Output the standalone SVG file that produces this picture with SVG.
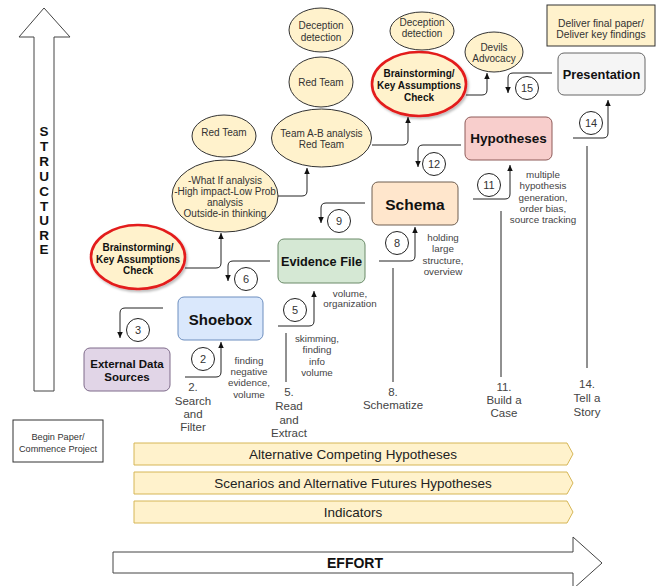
<svg xmlns="http://www.w3.org/2000/svg" width="665" height="586" viewBox="0 0 665 586">
<defs>
<marker id="ah" viewBox="0 0 8 8" refX="7" refY="4" markerWidth="7" markerHeight="7" markerUnits="userSpaceOnUse" orient="auto">
<path d="M0,0.8 L7,4 L0,7.2 Z" fill="#111"/>
</marker>
<filter id="sh" x="-20%" y="-20%" width="150%" height="150%">
<feDropShadow dx="1.5" dy="2" stdDeviation="1.2" flood-color="#000" flood-opacity="0.25"/>
</filter>
<style>
text{font-family:"Liberation Sans",Arial,Helvetica,sans-serif;text-anchor:middle;fill:#222}
.el{fill:#fff2cc;stroke:#333;stroke-width:1}
.red{fill:#fff2cc;stroke:#e31b1b;stroke-width:2.6}
.et{font-size:10px;fill:#333}
.bt{font-size:10px;font-weight:bold;fill:#111}
.nt{font-weight:bold;fill:#111}
.lbl{font-size:9.8px;fill:#444}
.step{font-size:11.5px;fill:#444}
.con{fill:none;stroke:#222;stroke-width:1}
.con path{marker-end:url(#ah)}
.vl{stroke:#222;stroke-width:1}
.num circle{fill:#fff;stroke:#222;stroke-width:1}
.num text{font-size:11px;fill:#333}
.band{fill:#fff2cc;stroke:#d6b656;stroke-width:1}
.bandt{font-size:13.5px;fill:#222}
.big{fill:#fff;stroke:#444;stroke-width:1}
</style>
</defs>
<rect width="665" height="586" fill="#fff"/>

<g id="structure-arrow">
<polygon class="big" points="34,391 54,391 54,37 70,37 44,8 19,37 34,37"/>
<text x="44" y="136" style="font-size:13.5px;font-weight:bold;fill:#111">S</text>
<text x="44" y="151" style="font-size:13.5px;font-weight:bold;fill:#111">T</text>
<text x="44" y="166" style="font-size:13.5px;font-weight:bold;fill:#111">R</text>
<text x="44" y="181" style="font-size:13.5px;font-weight:bold;fill:#111">U</text>
<text x="44" y="196" style="font-size:13.5px;font-weight:bold;fill:#111">C</text>
<text x="44" y="211" style="font-size:13.5px;font-weight:bold;fill:#111">T</text>
<text x="44" y="225" style="font-size:13.5px;font-weight:bold;fill:#111">U</text>
<text x="44" y="240" style="font-size:13.5px;font-weight:bold;fill:#111">R</text>
<text x="44" y="254" style="font-size:13.5px;font-weight:bold;fill:#111">E</text>
</g>

<g id="effort-arrow">
<polygon class="big" points="113,552 573,552 573,537 602,563 573,589 573,573 113,573"/>
<text x="355" y="568" style="font-size:14px;font-weight:bold;fill:#111">EFFORT</text>
</g>

<g id="band-ach">
<polygon class="band" points="134,443 567,443 573,454 567,465 134,465"/>
<text class="bandt" x="353" y="458.5">Alternative Competing Hypotheses</text>
</g>
<g id="band-scenarios">
<polygon class="band" points="134,472 567,472 573,483 567,494 134,494"/>
<text class="bandt" x="353" y="487.5">Scenarios and Alternative Futures Hypotheses</text>
</g>
<g id="band-indicators">
<polygon class="band" points="134,501 567,501 573,512 567,523 134,523"/>
<text class="bandt" x="353" y="516.5">Indicators</text>
</g>

<g id="begin">
<rect x="13" y="420" width="90" height="42" fill="#fff" stroke="#333"/>
<text x="58" y="440" style="font-size:9.2px;fill:#333">Begin Paper/</text>
<text x="58" y="452" style="font-size:9.2px;fill:#333">Commence Project</text>
</g>

<g id="deliver">
<rect x="547" y="5" width="108" height="41" fill="#fff2cc" stroke="#333"/>
<text x="601" y="26.5" style="font-size:10.3px;fill:#333">Deliver final paper/</text>
<text x="601" y="37.5" style="font-size:10.3px;fill:#333">Deliver key findings</text>
</g>

<g id="deception1">
<ellipse class="el" cx="321" cy="30" rx="32" ry="22"/>
<text class="et" x="321" y="28.5">Deception</text>
<text class="et" x="321" y="40.5">detection</text>
</g>
<g id="redteam1">
<ellipse class="el" cx="321" cy="82" rx="32" ry="25"/>
<text class="et" x="321" y="85.5">Red Team</text>
</g>
<g id="teamab">
<ellipse class="el" cx="321.5" cy="138" rx="50" ry="29"/>
<text class="et" x="321.5" y="136.5">Team A-B analysis</text>
<text class="et" x="321.5" y="147.5">Red Team</text>
</g>
<g id="redteam2">
<ellipse class="el" cx="224" cy="136" rx="32" ry="21"/>
<text class="et" x="224" y="135.5">Red Team</text>
</g>
<g id="whatif">
<ellipse class="el" cx="225" cy="196" rx="53" ry="36"/>
<text class="et" x="225" y="183.5">-What If analysis</text>
<text class="et" x="225" y="194.8">-High impact-Low Prob</text>
<text class="et" x="225" y="206">analysis</text>
<text class="et" x="225" y="217.3">Outside-in thinking</text>
</g>
<g id="brainstorm1">
<ellipse class="red" cx="138" cy="257" rx="47" ry="32" filter="url(#sh)"/>
<text class="bt" x="138" y="250.5">Brainstorming/</text>
<text class="bt" x="138" y="262.5">Key Assumptions</text>
<text class="bt" x="138" y="274">Check</text>
</g>
<g id="deception2">
<ellipse class="el" cx="422" cy="31" rx="32" ry="19"/>
<text class="et" x="422" y="25.5">Deception</text>
<text class="et" x="422" y="36.5">detection</text>
</g>
<g id="brainstorm2">
<ellipse class="red" cx="419" cy="84" rx="47" ry="32" filter="url(#sh)"/>
<text class="bt" x="419" y="76.5">Brainstorming/</text>
<text class="bt" x="419" y="88.5">Key Assumptions</text>
<text class="bt" x="419" y="100.5">Check</text>
</g>
<g id="devils">
<ellipse class="el" cx="494" cy="52" rx="29" ry="20"/>
<text class="et" x="494" y="50.5">Devils</text>
<text class="et" x="494" y="61.5">Advocacy</text>
</g>

<g id="presentation">
<rect x="558" y="53" width="87" height="42" rx="6" fill="#f5f5f5" stroke="#666"/>
<text class="nt" x="601.5" y="78.5" style="font-size:12.8px">Presentation</text>
</g>
<g id="hypotheses">
<rect x="465" y="117" width="87" height="43" rx="6" fill="#f8cecc" stroke="#8e5a58"/>
<text class="nt" x="508.5" y="143" style="font-size:13.5px">Hypotheses</text>
</g>
<g id="schema">
<rect x="372" y="182" width="86" height="43" rx="6" fill="#ffe6cc" stroke="#6e5e50"/>
<text class="nt" x="415" y="209.5" style="font-size:15.5px">Schema</text>
</g>
<g id="evidence">
<rect x="278" y="239" width="87" height="44" rx="6" fill="#d5e8d4" stroke="#6a8a68"/>
<text class="nt" x="321.5" y="265.5" style="font-size:12.7px">Evidence File</text>
</g>
<g id="shoebox">
<rect x="178" y="297" width="85" height="43" rx="6" fill="#dae8fc" stroke="#6c8ebf"/>
<text class="nt" x="220.5" y="325" style="font-size:15px">Shoebox</text>
</g>
<g id="external">
<rect x="84" y="348" width="86" height="43" rx="6" fill="#e1d5e7" stroke="#7e6a8a"/>
<text class="nt" x="127" y="367.5" style="font-size:11.5px">External Data</text>
<text class="nt" x="127" y="380.5" style="font-size:11.5px">Sources</text>
</g>

<g id="connectors" class="con">
<path d="M278,196 H302 Q307,196 307,191 V168"/>
<path d="M372,145 H403 Q408,145 408,140 V117"/>
<path d="M466,95 H482 Q487,95 487,90 V73"/>
<path d="M185,268 H216 Q221,268 221,263 V233"/>
<path d="M552,73 H513 Q508,73 508,78 V93"/>
<path d="M573,138 H603 Q608,138 608,133 V100"/>
<path d="M461,145 H423 Q418,145 418,150 V167"/>
<path d="M473,199 H505 Q510,199 510,194 V165"/>
<path d="M365,203 H326 Q321,203 321,208 V223"/>
<path d="M379,261 H410 Q415,261 415,256 V227"/>
<path d="M270,261 H233 Q228,261 228,266 V281"/>
<path d="M278,326 H309 Q314,326 314,321 V291"/>
<path d="M163,308 H125 Q120,308 120,313 V338"/>
<path d="M185,377 H216 Q221,377 221,372 V342"/>
<line class="vl" x1="286" y1="333" x2="286" y2="382"/>
<line class="vl" x1="393" y1="268" x2="393" y2="382"/>
<line class="vl" x1="501" y1="211" x2="501" y2="377"/>
<line class="vl" x1="587" y1="146" x2="587" y2="368"/>
</g>

<g id="step-numbers" class="num">
<circle cx="203" cy="359" r="11.5"/><text x="203" y="363">2</text>
<circle cx="138" cy="330" r="11.5"/><text x="138" y="334">3</text>
<circle cx="295" cy="310" r="11.5"/><text x="295" y="314">5</text>
<circle cx="246" cy="279" r="11.5"/><text x="246" y="283">6</text>
<circle cx="397" cy="243" r="11.5"/><text x="397" y="247">8</text>
<circle cx="339" cy="221" r="11.5"/><text x="339" y="225">9</text>
<circle cx="489" cy="185" r="11.5"/><text x="489" y="189">11</text>
<circle cx="434" cy="164" r="11.5"/><text x="434" y="168">12</text>
<circle cx="591" cy="123" r="11.5"/><text x="591" y="127">14</text>
<circle cx="527" cy="88" r="11.5"/><text x="527" y="92">15</text>
</g>

<g id="labels">
<text class="step" x="193" y="391">2.</text>
<text class="step" x="193" y="405">Search</text>
<text class="step" x="193" y="418">and</text>
<text class="step" x="193" y="431">Filter</text>
<text class="step" x="289" y="396">5.</text>
<text class="step" x="289" y="410">Read</text>
<text class="step" x="289" y="424">and</text>
<text class="step" x="289" y="437">Extract</text>
<text class="step" x="393" y="396">8.</text>
<text class="step" x="393" y="409">Schematize</text>
<text class="step" x="504" y="391">11.</text>
<text class="step" x="504" y="404">Build a</text>
<text class="step" x="504" y="417">Case</text>
<text class="step" x="587" y="388">14.</text>
<text class="step" x="587" y="402">Tell a</text>
<text class="step" x="587" y="416">Story</text>
<text class="lbl" x="249" y="363.5">finding</text>
<text class="lbl" x="249" y="375">negative</text>
<text class="lbl" x="249" y="386">evidence,</text>
<text class="lbl" x="249" y="397.5">volume</text>
<text class="lbl" x="317" y="341.5">skimming,</text>
<text class="lbl" x="317" y="353">finding</text>
<text class="lbl" x="317" y="364.5">info</text>
<text class="lbl" x="317" y="376">volume</text>
<text class="lbl" x="350" y="296.5">volume,</text>
<text class="lbl" x="350" y="307">organization</text>
<text class="lbl" x="443" y="240.5">holding</text>
<text class="lbl" x="443" y="252">large</text>
<text class="lbl" x="443" y="263.5">structure,</text>
<text class="lbl" x="443" y="275">overview</text>
<text class="lbl" x="543" y="177.5">multiple</text>
<text class="lbl" x="543" y="189">hypothesis</text>
<text class="lbl" x="543" y="200.5">generation,</text>
<text class="lbl" x="543" y="212">order bias,</text>
<text class="lbl" x="543" y="223">source tracking</text>
</g>
</svg>
